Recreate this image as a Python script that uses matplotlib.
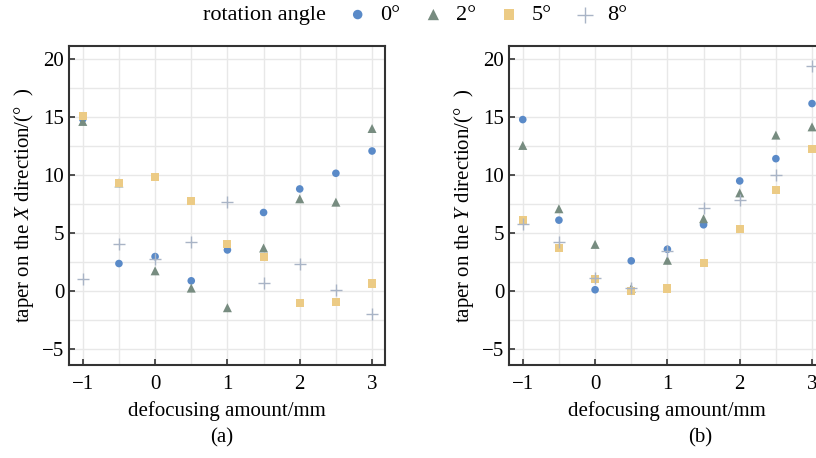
#!/usr/bin/env python3
"""Taper vs defocusing amount for four rotation angles, X and Y directions."""

import matplotlib

matplotlib.use("Agg")
import matplotlib.pyplot as plt
from matplotlib.ticker import MultipleLocator

plt.rcParams["font.family"] = ["Liberation Serif", "DejaVu Serif"]
plt.rcParams["mathtext.fontset"] = "custom"
plt.rcParams["mathtext.rm"] = "Liberation Serif"
plt.rcParams["mathtext.it"] = "Liberation Serif:italic"

defocus = [-1, -0.5, 0, 0.5, 1, 1.5, 2, 2.5, 3]

# panel (a): taper on the X direction
x_deg0 = [14.8, 2.35, 2.95, 0.86, 3.52, 6.75, 8.78, 10.13, 12.05]
x_deg2 = [14.6, 9.3, 1.72, 0.23, -1.46, 3.69, 7.93, 7.64, 13.99]
x_deg5 = [15.05, 9.3, 9.84, 7.75, 4.06, 2.95, -1.06, -0.94, 0.63]
x_deg8 = [1.0, 4.06, 2.72, 4.2, 7.67, 0.66, 2.29, 0.09, -2.03]

# panel (b): taper on the Y direction
y_deg0 = [14.76, 6.09, 0.09, 2.58, 3.58, 5.69, 9.47, 11.39, 16.14]
y_deg2 = [12.53, 7.07, 4.0, 0.2, 2.63, 6.21, 8.44, 13.42, 14.13]
y_deg5 = [6.09, 3.66, 1.0, 0.0, 0.2, 2.37, 5.29, 8.7, 12.19]
y_deg8 = [5.78, 4.2, 1.06, 0.26, 3.46, 7.12, 7.81, 9.96, 19.37]

ANGLES = ["0°", "2°", "5°", "8°"]
STYLES = [
    dict(marker="o", color="#5A8AC8", s=30, edgecolors="none"),
    dict(marker="^", color="#778C80", s=42, edgecolors="none"),
    dict(marker="s", color="#ECCB85", s=34, edgecolors="none"),
    dict(marker="+", color="#A9B4C6", s=80, linewidths=1.0),
]


def draw_panel(ax, series, ylabel):
  for vals, label, style in zip(series, ANGLES, STYLES):
    ax.scatter(defocus, vals, label=label, zorder=3, **style)
  ax.set_xlim(-1.19, 3.18)
  ax.set_ylim(-6.4, 21.1)
  ax.xaxis.set_major_locator(MultipleLocator(1))
  ax.xaxis.set_minor_locator(MultipleLocator(0.5))
  ax.yaxis.set_major_locator(MultipleLocator(5))
  ax.yaxis.set_minor_locator(MultipleLocator(2.5))
  ax.grid(which="both", color="#E8E8E8", linewidth=1.0, zorder=0)
  ax.set_axisbelow(True)
  ax.tick_params(which="major", direction="in", length=4, width=1.2,
                 labelsize=15, color="#333333")
  ax.tick_params(axis="x", which="major", pad=7)
  ax.tick_params(which="minor", length=0)
  for sp in ax.spines.values():
    sp.set_linewidth(1.5)
    sp.set_color("#333333")
  ax.set_xlabel("defocusing amount/mm", fontsize=15, labelpad=5)
  ax.set_ylabel(ylabel, fontsize=15, labelpad=4)


fig = plt.figure(figsize=(8.16, 4.58), dpi=100)
ax_a = fig.add_axes([0.0846, 0.203, 0.3873, 0.6965])
ax_b = fig.add_axes([0.6238, 0.203, 0.3873, 0.6965])

draw_panel(ax_a, [x_deg0, x_deg2, x_deg5, x_deg8],
           r"taper on the $\mathit{X}$ direction/(°  )")
draw_panel(ax_b, [y_deg0, y_deg2, y_deg5, y_deg8],
           r"taper on the $\mathit{Y}$ direction/(°  )")

fig.text(0.272, 0.043, "(a)", ha="center", va="center", fontsize=15)
fig.text(0.858, 0.043, "(b)", ha="center", va="center", fontsize=15)

fig.text(0.324, 0.967, "rotation angle", ha="center", va="center",
         fontsize=16)
handles, labels = ax_a.get_legend_handles_labels()
fig.legend(handles, labels, loc="center left", bbox_to_anchor=(0.422, 0.967),
           ncol=4, frameon=False, fontsize=16, handletextpad=0.4,
           columnspacing=0.9, handlelength=1.2, borderpad=0,
           borderaxespad=0, markerscale=1.25)

fig.savefig("out.png", dpi=100)
